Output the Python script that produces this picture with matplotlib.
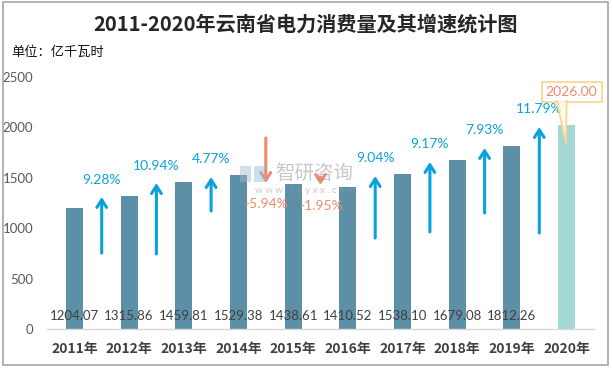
import matplotlib
matplotlib.use("Agg")
import matplotlib.pyplot as plt
from matplotlib.patches import Rectangle, Polygon
from matplotlib.lines import Line2D

# ---- data ----
years = ["2011年", "2012年", "2013年", "2014年", "2015年",
         "2016年", "2017年", "2018年", "2019年", "2020年"]
consumption = [1204.07, 1315.86, 1459.81, 1529.38, 1438.61,
               1410.52, 1538.10, 1679.08, 1812.26, 2026.00]
growth = [9.28, 10.94, 4.77, -5.94, -1.95, 9.04, 9.17, 7.93, 11.79]
# decorative arrow anchors (value-axis units): tail, head, label height
arrow_tail = [754, 744, 1171, 1895, 1508, 903, 962, 1151, 952]
arrow_head = [1310, 1448, 1508, 1448, 1429, 1518, 1657, 1796, 2004]
label_y = [1478, 1617, 1687, 1240, 1220, 1696, 1835, 1974, 2183]
yticks = [0, 500, 1000, 1500, 2000, 2500]

BAR = "#5d8fa7"
BAR_LAST = "#a3d8d5"
BLUE = "#0aa2dd"
SALMON = "#ef8a6c"
CJK = ["Noto Sans CJK SC", "DejaVu Sans"]
NUM = ["Lato", "DejaVu Sans"]

W, H = 613, 370
fig = plt.figure(figsize=(W / 100, H / 100), dpi=100)
fig.patch.set_facecolor("white")

left, right, bottom_px, top_px = 47, 594, 329, 77
ax = fig.add_axes([left / W, (H - bottom_px) / H, (right - left) / W,
                   (bottom_px - top_px) / H])

x = list(range(len(years)))
colors = [BAR] * (len(years) - 1) + [BAR_LAST]
ax.bar(x, consumption, width=0.31, color=colors, zorder=2)

ax.set_xlim(-0.5, len(years) - 0.5)
ax.set_ylim(0, 2500)
ax.set_yticks(yticks)
ax.set_yticklabels([str(t) for t in yticks], family=NUM, fontsize=9.5,
                   color="#595959")
ax.tick_params(axis="y", length=0, pad=10)
ax.set_xticks(x)
ax.set_xticklabels(years, family=CJK, fontsize=10, fontweight="bold",
                   color="#404040")
ax.tick_params(axis="x", length=0, pad=9)
for s in ["left", "right", "top"]:
    ax.spines[s].set_visible(False)
ax.spines["bottom"].set_color("#d9d9d9")
ax.spines["bottom"].set_linewidth(1)

# bottom value labels (except last)
for i, v in enumerate(consumption[:-1]):
    ax.annotate(f"{v:.2f}", xy=(i, 0), xytext=(0, 9), textcoords="offset points",
                ha="center", va="center", family=NUM, fontsize=9.5,
                color="#404040", zorder=3)

# growth arrows
for i, g in enumerate(growth):
    xi = i + 0.5
    c = BLUE if g >= 0 else SALMON
    ax.annotate("", xy=(xi, arrow_head[i]), xytext=(xi, arrow_tail[i]),
                arrowprops=dict(arrowstyle="->,head_length=0.55,head_width=0.35",
                                color=c, lw=2.2, shrinkA=0, shrinkB=0),
                zorder=4)
    ax.text(xi, label_y[i], f"{g:.2f}%", ha="center", va="center",
            family=NUM, fontsize=10, color=c, zorder=5)

# callout for last bar
last = len(consumption) - 1
bx, by = last + 0.09, 2350
ax.text(bx, by, f"{consumption[-1]:.2f}", ha="center", va="center",
        family=NUM, fontsize=10, color=SALMON, zorder=6,
        bbox=dict(boxstyle="square,pad=0.3", fc="white", ec="#f5d68c", lw=1.2),
        clip_on=False)
ptr = [(last - 0.18, 2262), (last, 2262), (last - 0.01, consumption[-1] - 200)]
ax.add_patch(Polygon(ptr, closed=True, fc="#fff8e6", ec="none", alpha=0.85,
                     zorder=7, clip_on=False))
ax.add_line(Line2D([ptr[0][0], ptr[2][0], ptr[1][0]],
                   [ptr[0][1], ptr[2][1], ptr[1][1]], color="#f5d68c", lw=1.2,
                   zorder=8, clip_on=False))

# titles
fig.text(306 / W, 1 - 24 / H, "2011-2020年云南省电力消费量及其增速统计图",
         ha="center", va="center", family=CJK, fontsize=14.5, fontweight="bold",
         color="#262626")
fig.text(11 / W, 1 - 52 / H, "单位：亿千瓦时", ha="left", va="center",
         family=CJK, fontsize=9.5, color="#111111")

# watermark
fig.text(314 / W, 1 - 173 / H, "智研咨询", ha="center", va="center",
         family=CJK, fontsize=14, color="#9a9a9a", alpha=0.55, zorder=10)
fig.text(305 / W, 1 - 191 / H, "w w w . c h y x x . c o m", ha="center",
         va="center", family=NUM, fontsize=7, color="#9a9a9a", alpha=0.55,
         zorder=10)
fig.patches.append(Rectangle((240 / W, 1 - 182 / H), 11 / W, 16 / H,
                             transform=fig.transFigure, fc="#9fb7cf",
                             alpha=0.45, ec="none"))
fig.patches.append(Rectangle((254 / W, 1 - 182 / H), 11 / W, 16 / H,
                             transform=fig.transFigure, fc="#8fb8dd",
                             alpha=0.45, ec="none"))

# outer border
fig.patches.append(Rectangle((3 / W, 5 / H), 605 / W, 363 / H,
                             transform=fig.transFigure, fill=False,
                             ec="#a6a6a6", lw=1.2))

fig.savefig("out.png", dpi=100, facecolor="white")
